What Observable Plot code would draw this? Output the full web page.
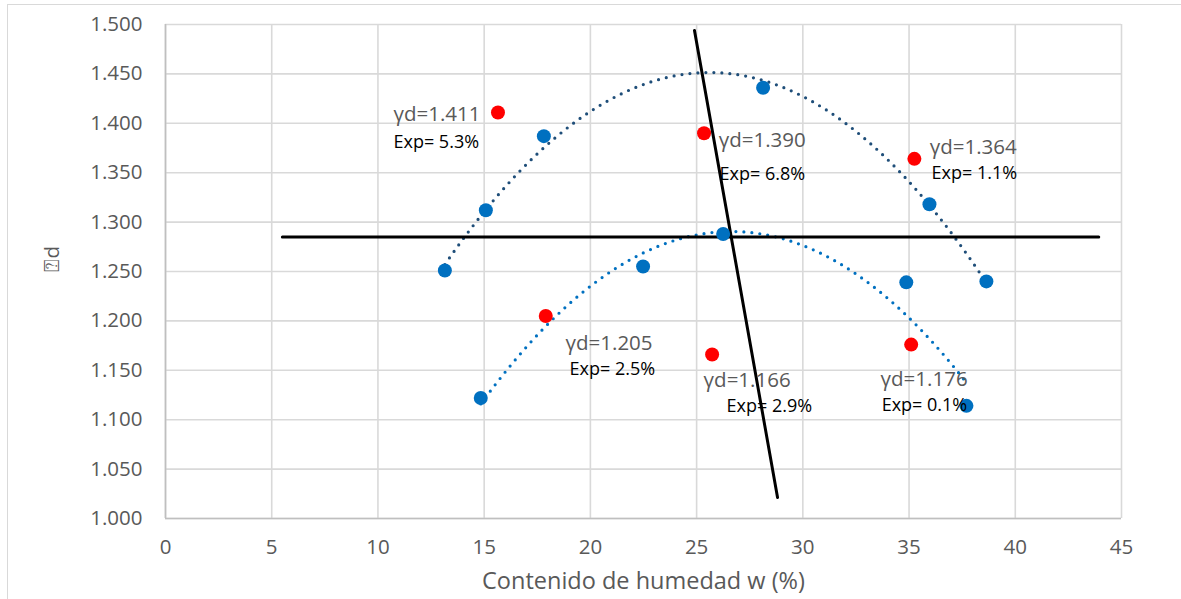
<!DOCTYPE html>
<html>
<head>
<meta charset="utf-8">
<script src="https://cdn.jsdelivr.net/npm/d3@7"></script>
<script src="https://cdn.jsdelivr.net/npm/@observablehq/plot@0.6"></script>
<style>
  html, body { margin: 0; padding: 0; background: #fff; }
  #wrap { position: relative; width: 1181px; height: 599px; overflow: hidden; }
  #frame { position: absolute; left: 7px; top: 4px; width: 1180px; height: 600px;
           border-left: 1.5px solid #d9d9d9; border-top: 1.5px solid #d9d9d9; pointer-events: none; }
</style>
</head>
<body>
<div id="wrap"><div id="frame"></div></div>
<script>
// ---- data ----
const xTicks = [0, 5, 10, 15, 20, 25, 30, 35, 40, 45];
const yTicks = [1.0, 1.05, 1.1, 1.15, 1.2, 1.25, 1.3, 1.35, 1.4, 1.45, 1.5];
const xTitle = "Contenido de humedad w (%)";
const yTitle = "⍰d";

// upper compaction curve (blue points)
const wUpper = [13.15, 15.08, 17.81, 28.13, 35.96, 38.64];
const gUpper = [1.251, 1.312, 1.387, 1.436, 1.318, 1.240];
// lower compaction curve (blue points)
const wLower = [14.84, 22.48, 26.25, 34.87, 37.70];
const gLower = [1.122, 1.255, 1.288, 1.239, 1.114];

// red test points
const wRed = [15.65, 25.35, 35.25, 17.9, 25.73, 35.1];
const gRed = [1.411, 1.390, 1.364, 1.205, 1.166, 1.176];
const gammaText = ["γd=1.411", "γd=1.390", "γd=1.364", "γd=1.205", "γd=1.166", "γd=1.176"];
const expText = ["Exp= 5.3%", "Exp= 6.8%", "Exp= 1.1%", "Exp= 2.5%", "Exp= 2.9%", "Exp= 0.1%"];
// label anchor positions (data units)
const gammaLabelW = [10.73, 26.04, 35.97, 18.83, 25.33, 33.66];
const gammaLabelG = [1.4085, 1.3831, 1.3755, 1.1775, 1.1395, 1.1405];
const expLabelW = [10.73, 26.08, 36.06, 19.02, 26.41, 33.71];
const expLabelG = [1.3811, 1.3485, 1.3495, 1.1515, 1.1135, 1.1145];

// reference lines
const hLineW = [5.5, 43.93];
const hLineG = [1.285, 1.285];
const sLineW = [24.9, 28.81];
const sLineG = [1.494, 1.0213];

// ---- build tables ----
const upper = wUpper.map((w, i) => ({w, g: gUpper[i]}));
const lower = wLower.map((w, i) => ({w, g: gLower[i]}));
const red = wRed.map((w, i) => ({w, g: gRed[i]}));
const gammaLabels = gammaText.map((t, i) => ({t, w: gammaLabelW[i], g: gammaLabelG[i]}));
const expLabels = expText.map((t, i) => ({t, w: expLabelW[i], g: expLabelG[i]}));
const hLine = hLineW.map((w, i) => ({w, g: hLineG[i]}));
const sLine = sLineW.map((w, i) => ({w, g: sLineG[i]}));

// polynomial (order 2) least-squares trendline, like a spreadsheet trendline
function quadFit(xs, ys) {
  let S = [0,0,0,0,0], T = [0,0,0];
  xs.forEach((x, i) => {
    for (let k = 0; k < 5; k++) S[k] += Math.pow(x, k);
    for (let k = 0; k < 3; k++) T[k] += ys[i] * Math.pow(x, k);
  });
  const A = [[S[0], S[1], S[2]], [S[1], S[2], S[3]], [S[2], S[3], S[4]]];
  const det = m => m[0][0]*(m[1][1]*m[2][2]-m[1][2]*m[2][1]) - m[0][1]*(m[1][0]*m[2][2]-m[1][2]*m[2][0]) + m[0][2]*(m[1][0]*m[2][1]-m[1][1]*m[2][0]);
  const D = det(A);
  const c = [0,1,2].map(j => det(A.map((row, r) => row.map((v, k) => k === j ? T[r] : v))) / D);
  return x => c[0] + c[1]*x + c[2]*x*x;
}
function trend(xs, ys) {
  const f = quadFit(xs, ys);
  const x0 = d3.min(xs), x1 = d3.max(xs);
  return d3.range(201).map(i => { const w = x0 + (x1 - x0) * i / 200; return {w, g: f(w)}; });
}
const upperTrend = trend(wUpper, gUpper);
const lowerTrend = trend(wLower, gLower);

const chart = Plot.plot({
  width: 1181,
  height: 599,
  marginLeft: 165,
  marginRight: 60,
  marginTop: 24,
  marginBottom: 81,
  x: {domain: [0, 45]},
  y: {domain: [1.0, 1.5]},
  style: {fontFamily: "'Open Sans', sans-serif", fontSize: "20.5px", color: "#595959", background: "transparent"},
  marks: [
    Plot.gridX(xTicks, {stroke: "#d9d9d9", strokeOpacity: 1, strokeWidth: 1.6}),
    Plot.gridY(yTicks, {stroke: "#d9d9d9", strokeOpacity: 1, strokeWidth: 1.6}),
    Plot.ruleX([0], {stroke: "#bfbfbf", strokeWidth: 1.6}),
    Plot.ruleY([1.0], {stroke: "#bfbfbf", strokeWidth: 1.6}),
    Plot.axisX({ticks: xTicks, tickSize: 0, tickPadding: 21, label: null, fill: "#595959"}),
    Plot.axisY({ticks: yTicks, tickSize: 0, tickPadding: 23, tickFormat: d3.format(".3f"), label: null, fill: "#595959"}),
    Plot.text([xTitle], {text: d => d, frameAnchor: "bottom", dy: 63, lineAnchor: "middle", fontSize: 23.5, fill: "#595959"}),
    Plot.text([yTitle], {text: d => d, frameAnchor: "left", dx: -113, rotate: -90, lineAnchor: "middle", fontSize: 20.5, fill: "#595959"}),
    Plot.line(upperTrend, {x: "w", y: "g", stroke: "#1f4e79", strokeWidth: 3.2, strokeDasharray: "0,8", strokeLinecap: "round", curve: "linear"}),
    Plot.line(lowerTrend, {x: "w", y: "g", stroke: "#0070c0", strokeWidth: 3.2, strokeDasharray: "0,8", strokeLinecap: "round", curve: "linear"}),
    Plot.line(hLine, {x: "w", y: "g", stroke: "#000", strokeWidth: 3}),
    Plot.line(sLine, {x: "w", y: "g", stroke: "#000", strokeWidth: 3}),
    Plot.dot(upper, {x: "w", y: "g", r: 7, fill: "#0070c0"}),
    Plot.dot(lower, {x: "w", y: "g", r: 7, fill: "#0070c0"}),
    Plot.dot(red, {x: "w", y: "g", r: 7, fill: "#ff0000"}),
    Plot.text(gammaLabels, {x: "w", y: "g", text: "t", textAnchor: "start", lineAnchor: "middle", fontSize: 20.5, fill: "#595959"}),
    Plot.text(expLabels, {x: "w", y: "g", text: "t", textAnchor: "start", lineAnchor: "middle", fontSize: 18, fill: "#000"})
  ]
});
document.getElementById("wrap").prepend(chart);
</script>
</body>
</html>
